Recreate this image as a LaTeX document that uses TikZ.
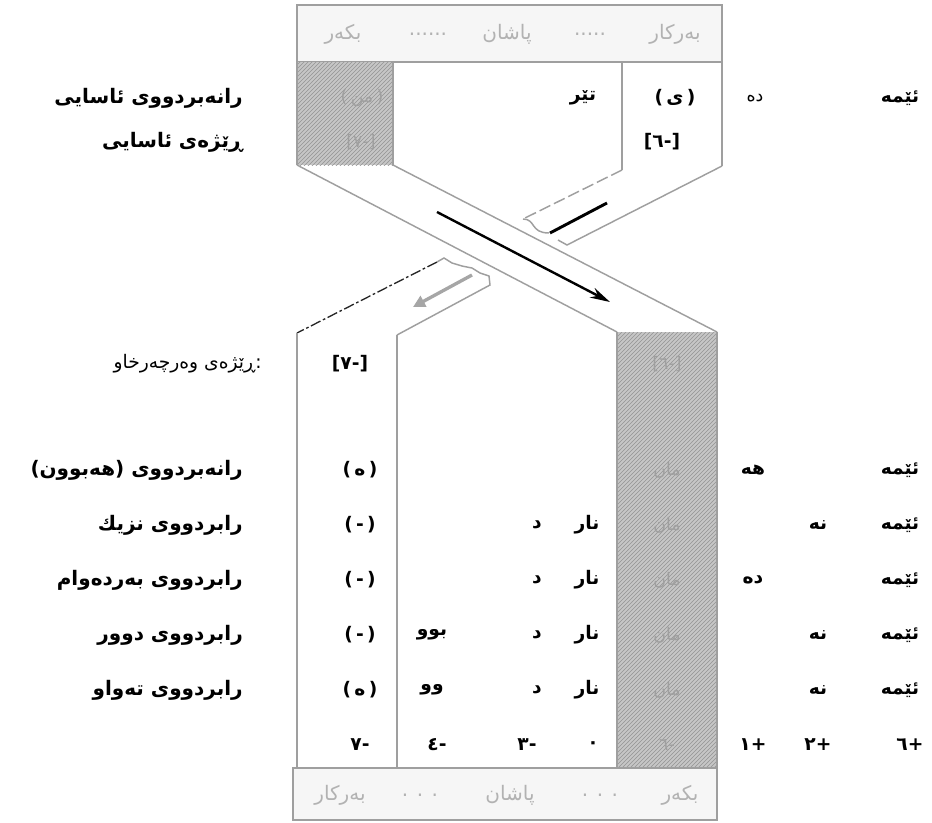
\documentclass[tikz,border=0pt]{standalone}
\usepackage{fontspec}
\setmainfont{DejaVu Sans}
\newfontfamily\arabicfont[Script=Arabic]{DejaVu Sans}
\TeXXeTstate=1
\usetikzlibrary{patterns,arrows.meta}
\newcommand\ar[1]{{\arabicfont\beginR #1\endR}}
\newcommand\pp[1]{(\hspace{2.5pt}#1\hspace{2.5pt})}
\begin{document}
\begin{tikzpicture}[x=0.75pt,y=-0.75pt,
  wall/.style={draw=gray!75,line width=1.1pt},
  hatch/.style={preaction={fill=gray!45},pattern=north east lines,pattern color=gray!85},
  cell/.style={font=\bfseries\fontsize{14}{16}\selectfont,inner sep=0pt},
  faint/.style={font=\fontsize{13}{15}\selectfont,text=gray!75,inner sep=0pt},
  lbl/.style={font=\bfseries\fontsize{15}{17}\selectfont,inner sep=0pt,anchor=east},
  hdr/.style={font=\fontsize{15}{17}\selectfont,text=gray!60,inner sep=0pt}]
\useasboundingbox (0,0) rectangle (932,822);

% ---- top header and body
\filldraw[wall,fill=gray!7] (297,5) rectangle (722,62);
\node[hdr] (th1) at (675,34) {\ar{بەرکار}};
\node[hdr] (th2) at (590,34) {.....};
\node[hdr] (th3) at (507,34) {\ar{پاشان}};
\node[hdr] (th4) at (428,34) {......};
\node[hdr] (th5) at (343,34) {\ar{بکەر}};
\fill[hatch] (297,62) rectangle (393,165);
\draw[wall] (297,62) -- (297,165);
\draw[wall] (393,62) -- (393,165);
\draw[wall] (622,62) -- (622,170);
\draw[wall] (722,62) -- (722,166);

% ---- band 1 (on top)
\draw[wall] (297,165) -- (617,332);
\draw[wall] (393,165) -- (717,332);
% ---- band 2, upper piece
\draw[wall,dash pattern=on 9pt off 3pt] (622,170) -- (523,219);
\draw[wall] (722,166) -- (567,245) -- (558,240);
\draw[wall] (523,219) .. controls (536,219) and (530,233) .. (549,233);
\draw[line width=2.2pt] (550,233) -- (607,203);
% ---- band 2, lower piece
\draw[gray!30!black,line width=1pt,dash pattern=on 8pt off 2pt on 2pt off 2pt] (437,262) -- (297,333);
\draw[wall] (437,262) -- (444,258) -- (452,263) -- (462,266) -- (472,268) -- (480,273) -- (489,276) -- (490,285) -- (397,335);
\draw[gray!70,line width=2.5pt,-{Triangle[length=9pt,width=9pt]}] (472,275) -- (413,307);
% ---- main arrow
\draw[line width=1.8pt,-{Stealth[length=15pt,width=8pt]}] (437,212) -- (610,302);

% ---- bottom section
\fill[hatch] (617,332) rectangle (717,768);
\draw[wall] (297,333) -- (297,768);
\draw[wall] (397,335) -- (397,768);
\draw[wall] (617,332) -- (617,768);
\draw[wall] (717,332) -- (717,768);
\filldraw[wall,fill=gray!7] (293,768) rectangle (717,820);
\node[hdr] (bh1) at (680,795) {\ar{بکەر}};
\node[hdr] (bh2) at (600,795) {. . .};
\node[hdr] (bh3) at (510,795) {\ar{پاشان}};
\node[hdr] (bh4) at (420,795) {. . .};
\node[hdr] (bh5) at (340,795) {\ar{بەرکار}};

% ---- top rows
\node[lbl] (l1) at (243,98) {\ar{رانەبردووی ئاسایی}};
\node[faint] (c1a) at (362,98) {\pp{\ar{من}}};
\node[cell] (c1b) at (583,98) {\ar{تێر}};
\node[cell] (c1c) at (675,98) {\pp{\ar{ی}}};
\node[faint,text=black] (c1d) at (755,98) {\ar{دە}};
\node[cell] (c1e) at (900,98) {\ar{ئێمە}};

\node[lbl] (l2) at (243,142) {\ar{ڕێژەی ئاسایی}};
\node[faint] (c2a) at (361,142) {[٧-]};
\node[cell] (c2b) at (662,142) {[٦-]};

\node[lbl,font=\fontsize{14}{16}\selectfont] (l3) at (262,364) {\ar{:ڕێژەی وەرچەرخاو}};
\node[cell] (c3a) at (350,364) {[٧-]};
\node[faint] (c3b) at (667,364) {[٦-]};

% ---- bottom rows
\node[lbl] (l4) at (243,470) {\ar{رانەبردووی (هەبوون)}};
\node[cell] (r4a) at (360,470) {\pp{\ar{ە}}};
\node[faint] (r4e) at (667,470) {\ar{مان}};
\node[cell] (r4f) at (753,470) {\ar{هە}};
\node[cell] (r4h) at (900,470) {\ar{ئێمە}};

\node[lbl] (l5) at (243,525) {\ar{رابردووی نزیك}};
\node[cell] (r5a) at (360,525) {\pp{-}};
\node[cell] (r5c) at (537,525) {\ar{د}};
\node[cell] (r5d) at (587,525) {\ar{نار}};
\node[faint] (r5e) at (667,525) {\ar{مان}};
\node[cell] (r5g) at (818,525) {\ar{نە}};
\node[cell] (r5h) at (900,525) {\ar{ئێمە}};

\node[lbl] (l6) at (243,580) {\ar{رابردووی بەردەوام}};
\node[cell] (r6a) at (360,580) {\pp{-}};
\node[cell] (r6c) at (537,580) {\ar{د}};
\node[cell] (r6d) at (587,580) {\ar{نار}};
\node[faint] (r6e) at (667,580) {\ar{مان}};
\node[cell] (r6f) at (753,580) {\ar{دە}};
\node[cell] (r6h) at (900,580) {\ar{ئێمە}};

\node[lbl] (l7) at (243,635) {\ar{رابردووی دوور}};
\node[cell] (r7a) at (360,635) {\pp{-}};
\node[cell] (r7b) at (432,635) {\ar{بوو}};
\node[cell] (r7c) at (537,635) {\ar{د}};
\node[cell] (r7d) at (587,635) {\ar{نار}};
\node[faint] (r7e) at (667,635) {\ar{مان}};
\node[cell] (r7g) at (818,635) {\ar{نە}};
\node[cell] (r7h) at (900,635) {\ar{ئێمە}};

\node[lbl] (l8) at (243,690) {\ar{رابردووی تەواو}};
\node[cell] (r8a) at (360,690) {\pp{\ar{ە}}};
\node[cell] (r8b) at (432,690) {\ar{وو}};
\node[cell] (r8c) at (537,690) {\ar{د}};
\node[cell] (r8d) at (587,690) {\ar{نار}};
\node[faint] (r8e) at (667,690) {\ar{مان}};
\node[cell] (r8g) at (818,690) {\ar{نە}};
\node[cell] (r8h) at (900,690) {\ar{ئێمە}};

% ---- slot numbers
\node[cell] (n1) at (360,745) {٧-};
\node[cell] (n2) at (437,745) {٤-};
\node[cell] (n3) at (527,745) {٣-};
\node[cell] (n4) at (593,745) {٠};
\node[faint] (n5) at (667,745) {٦-};
\node[cell] (n6) at (753,745) {١+};
\node[cell] (n7) at (818,745) {٢+};
\node[cell] (n8) at (910,745) {٦+};
\end{tikzpicture}
\end{document}
